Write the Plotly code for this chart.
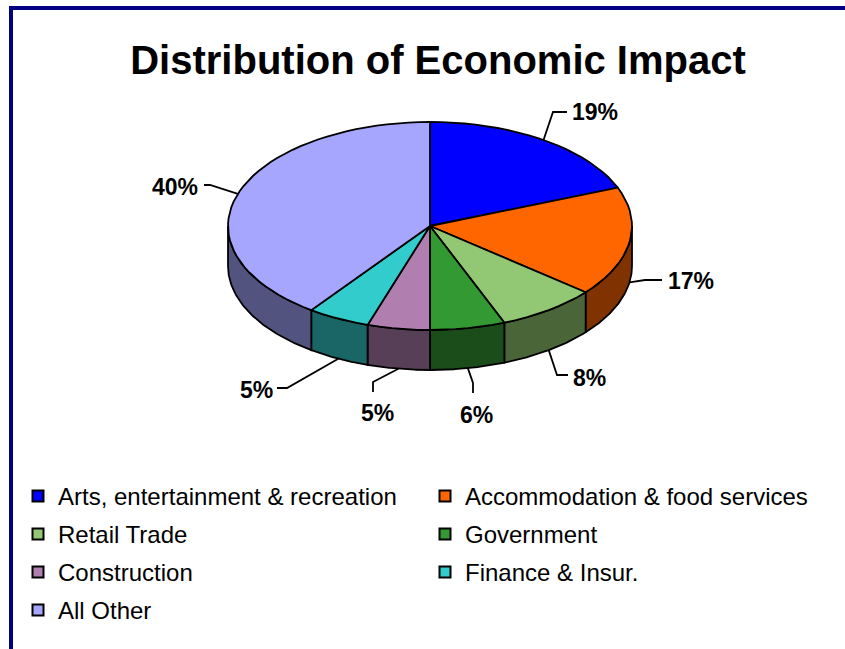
import numpy as np
import plotly.graph_objects as go

# ---- data -------------------------------------------------------------
categories = ["Arts, entertainment & recreation", "Accommodation & food services",
              "Retail Trade", "Government", "Construction", "Finance & Insur.",
              "All Other"]
shares = [19, 17, 8, 6, 5, 5, 40]
pct_labels = [f"{v}%" for v in shares]

# ---- styling ------------------------------------------------------------
top_colors = ["#0000FF", "#FF6600", "#92C774", "#339933", "#B07FB0", "#33CCCC", "#A6A6FF"]
side_colors = ["#00007F", "#803300", "#4A6639", "#1A4D1A", "#583F58", "#1A6666", "#535380"]
FONT = "Arial, 'Liberation Sans', sans-serif"

W, H = 845, 649
CX, CY = 430, 226        # pie centre in page pixels
RX = 202                 # horizontal radius in pixels = 1 data unit
TILT = 104 / RX          # vertical squash of the top face
DEPTH = 40 / RX          # thickness of the disc


def to_data(px, py):
    """Page pixel -> data coordinates of the hidden axes."""
    return (px - CX) / RX, (CY - py) / RX


# label placement per slice: (elbow px, end px, text px, xanchor)
label_layout = [
    ((553, 112), (567, 112), (570, 112), "left"),
    ((645, 280), (662, 280), (666, 281), "left"),
    ((557, 375), (568, 375), (571, 378), "left"),
    ((473, 383), (473, 393), (476, 415), "center"),
    ((373, 382), (373, 392), (377, 413), "center"),
    ((287, 388), (277, 388), (275, 390), "right"),
    ((210, 185), (204, 185), (200, 187), "right"),
]

fig = go.Figure()

total = float(sum(shares))
bounds = np.concatenate([[0.0], np.cumsum(shares)]) / total * 2 * np.pi

# outer walls (only the front half of the rim is visible)
for i, c in enumerate(side_colors):
    a, b = bounds[i], bounds[i + 1]
    a2, b2 = max(a, np.pi / 2), min(b, 3 * np.pi / 2)
    if a2 >= b2:
        continue
    t = np.linspace(a2, b2, 80)
    xs = np.concatenate([np.sin(t), np.sin(t[::-1])])
    ys = np.concatenate([TILT * np.cos(t), TILT * np.cos(t[::-1]) - DEPTH])
    fig.add_trace(go.Scatter(
        x=np.append(xs, xs[0]), y=np.append(ys, ys[0]), mode="lines",
        fill="toself", fillcolor=c, line=dict(color="black", width=1.8),
        hoverinfo="skip", showlegend=False))

# top faces
for i, c in enumerate(top_colors):
    a, b = bounds[i], bounds[i + 1]
    t = np.linspace(a, b, max(int(120 * (b - a) / (2 * np.pi)), 6))
    xs = np.concatenate([[0], np.sin(t), [0]])
    ys = np.concatenate([[0], TILT * np.cos(t), [0]])
    fig.add_trace(go.Scatter(
        x=xs, y=ys, mode="lines", fill="toself", fillcolor=c,
        line=dict(color="black", width=1.8), name=categories[i],
        hovertemplate=f"{categories[i]}: {pct_labels[i]}<extra></extra>",
        showlegend=False))

# legend entries: two per row, one legend per row
legend_names = ["legend", "legend2", "legend3", "legend4"]
for i, cat in enumerate(categories):
    fig.add_trace(go.Scatter(
        x=[None], y=[None], mode="markers", name=cat,
        marker=dict(symbol="square", size=11, color=top_colors[i],
                    line=dict(color="black", width=2)),
        legend=legend_names[i // 2], showlegend=True))

# percentage labels with leader lines
shapes = []
annotations = []
for i, (elbow, end, txt, anchor) in enumerate(label_layout):
    mid = (bounds[i] + bounds[i + 1]) / 2
    ax = np.sin(mid)
    ay = TILT * np.cos(mid) - (DEPTH if np.cos(mid) < 0 else 0)
    ex, ey = to_data(*elbow)
    fx, fy = to_data(*end)
    shapes.append(dict(type="path", xref="x", yref="y",
                       path=f"M {ax},{ay} L {ex},{ey} L {fx},{fy}",
                       line=dict(color="black", width=1.8)))
    tx, ty = to_data(*txt)
    annotations.append(dict(x=tx, y=ty, xref="x", yref="y", text=f"<b>{pct_labels[i]}</b>",
                            showarrow=False, xanchor=anchor, yanchor="middle",
                            font=dict(family=FONT, size=23, color="black")))

# frame lines along the top and left
shapes.append(dict(type="line", xref="paper", yref="paper", x0=9 / W, x1=1,
                   y0=1 - 8 / H, y1=1 - 8 / H, line=dict(color="#000080", width=4)))
shapes.append(dict(type="line", xref="paper", yref="paper", x0=11 / W, x1=11 / W,
                   y0=0, y1=1 - 6 / H, line=dict(color="#000080", width=4)))

legend_common = dict(orientation="h", xanchor="left", yanchor="top",
                     x=18 / W, entrywidth=362, entrywidthmode="pixels",
                     bgcolor="rgba(0,0,0,0)", borderwidth=0, itemwidth=30,
                     font=dict(family=FONT, size=24, color="black"))
row_centres = [496, 534, 572, 610]
legends = {}
for name, rc in zip(legend_names, row_centres):
    legends[name] = dict(legend_common, y=1 - (rc - 22) / H)

fig.update_layout(
    width=W, height=H,
    margin=dict(l=0, r=0, t=0, b=0),
    paper_bgcolor="white", plot_bgcolor="white",
    title=dict(text="<b>Distribution of Economic Impact</b>", x=438 / W, xanchor="center",
               y=1 - 60 / H, yanchor="middle",
               font=dict(family=FONT, size=40, color="black")),
    xaxis=dict(range=[(0 - CX) / RX, (W - CX) / RX], visible=False, fixedrange=True),
    yaxis=dict(range=[(CY - H) / RX, CY / RX], visible=False, fixedrange=True),
    shapes=shapes, annotations=annotations,
    **legends,
)

fig.write_html("out.html")
